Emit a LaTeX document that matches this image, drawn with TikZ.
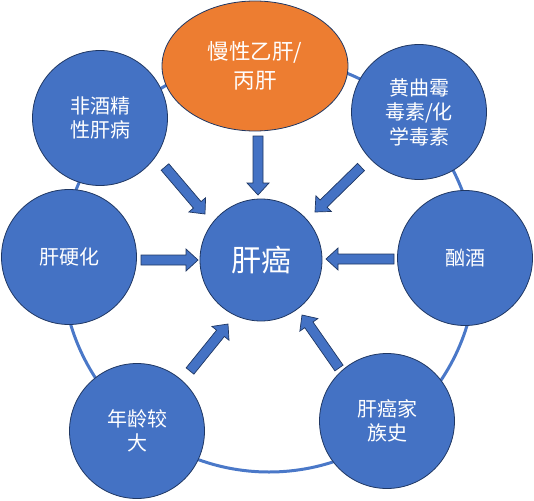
\documentclass[tikz,border=0pt]{standalone}
\usepackage{fontspec}
\newfontfamily\cjk{Noto Sans CJK SC}
\usetikzlibrary{shapes.geometric,calc}
\definecolor{fillblue}{HTML}{4472C4}
\definecolor{ringblue}{HTML}{4A78C8}
\definecolor{edgeblue}{HTML}{1F3763}
\definecolor{orangefill}{HTML}{ED7D31}
\newcommand{\blockarr}[3]{%
  \coordinate (h#3) at ($(#2)!12pt!(#1)$);
  \draw[arrowsty] ($(#1)!5pt!90:(#2)$) -- ($(h#3)!5pt!90:(#2)$) -- ($(h#3)!11pt!90:(#2)$)
    -- (#2) -- ($(h#3)!11pt!-90:(#2)$) -- ($(h#3)!5pt!-90:(#2)$) -- ($(#1)!5pt!-90:(#2)$) -- cycle;}
\begin{document}
\begin{tikzpicture}[x=1pt,y=-1pt,
  ring/.style={draw=ringblue,line width=3pt},
  bubble/.style={circle,draw=edgeblue,line width=0.8pt,fill=fillblue,text=white,
    minimum size=135pt,inner sep=0pt,align=center,font=\cjk\fontsize{20}{24.5}\selectfont},
  oval/.style={ellipse,draw=edgeblue,line width=0.8pt,fill=orangefill,text=white,
    minimum width=186pt,minimum height=130pt,inner sep=0pt,align=center,font=\cjk\fontsize{21.5}{29}\selectfont},
  core/.style={circle,draw=edgeblue,line width=0.8pt,fill=fillblue,text=white,
    minimum size=122pt,inner sep=0pt,font=\cjk\fontsize{30}{36}\selectfont},
  arrowsty/.style={draw=edgeblue,line width=0.7pt,fill=fillblue,line join=miter}]
\useasboundingbox (0,0) rectangle (534,500);
\draw[ring] (269,265) circle[radius=207];
\node[core] (liver) at (261,260) {肝癌};
\node[oval] (hep) at (255,66) {慢性乙肝/\\丙肝};
\node[bubble] (nafld) at (100,118) {非酒精\\性肝病};
\node[bubble] (cirr) at (69,257) {肝硬化};
\node[bubble] (afla) at (419,112) {黄曲霉\\毒素/化\\学毒素};
\node[bubble] (alco) at (465,258) {酗酒};
\node[bubble] (age) at (137,431) {年龄较\\大};
\node[bubble] (fam) at (387,421) {肝癌家\\族史};
\coordinate (t1) at (258,136); \coordinate (p1) at (258,195);
\coordinate (t2) at (141,260); \coordinate (p2) at (198,260);
\coordinate (t3) at (394,259); \coordinate (p3) at (326,259);
\coordinate (t4) at (165,167); \coordinate (p4) at (205,214);
\coordinate (t5) at (361,167); \coordinate (p5) at (315,212);
\coordinate (t6) at (190,371); \coordinate (p6) at (228,324);
\coordinate (t7) at (339,368); \coordinate (p7) at (302,315);
\blockarr{t1}{p1}{a}
\blockarr{t2}{p2}{b}
\blockarr{t3}{p3}{c}
\blockarr{t4}{p4}{d}
\blockarr{t5}{p5}{e}
\blockarr{t6}{p6}{f}
\blockarr{t7}{p7}{g}
\end{tikzpicture}
\end{document}
